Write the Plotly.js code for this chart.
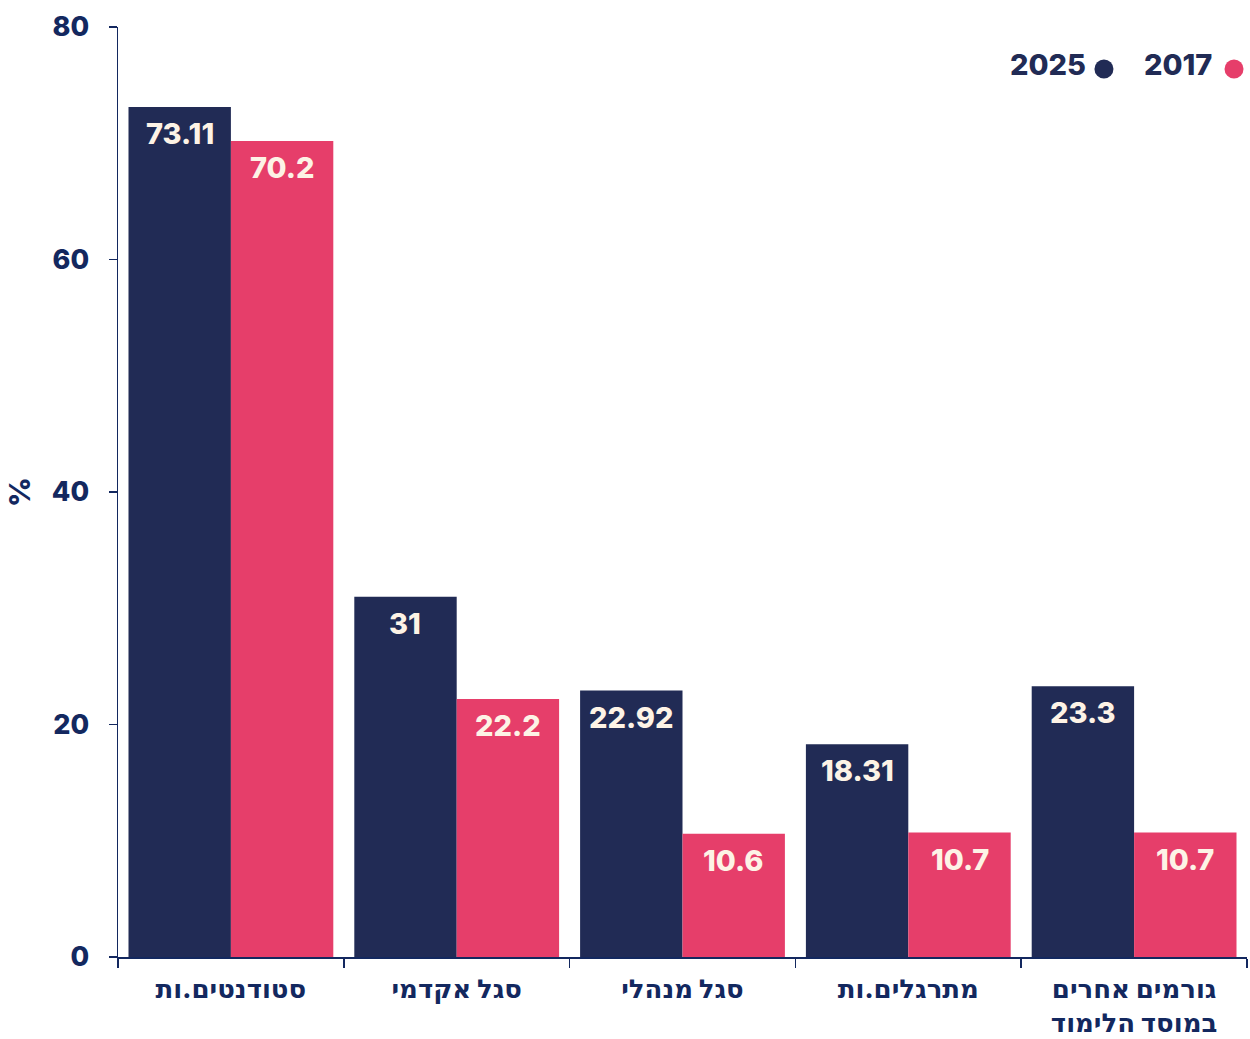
<!DOCTYPE html>
<html><head><meta charset="utf-8">
<script src="https://cdn.plot.ly/plotly-3.0.1.min.js"></script>
<style>body{margin:0;background:#fff}#c{width:1250px;height:1039px}</style>
</head><body><div id="c"></div>
<script>
const categories = ["סטודנטים.ות", "סגל אקדמי", "סגל מנהלי", "מתרגלים.ות", "גורמים אחרים<br>במוסד הלימוד"];
const values2025 = [73.11, 31, 22.92, 18.31, 23.3];
const values2017 = [70.2, 22.2, 10.6, 10.7, 10.7];
const seriesNames = ["2025", "2017"];
const yTicks = [0, 20, 40, 60, 80];

const NAVY = "#212b55", PINK = "#e63e6a", AXIS = "#13285f", TXT = "#fdf3e6";
const F = "Inter, 'Noto Sans', 'DejaVu Sans', sans-serif";
const W = 800;

const mk = (name, vals, color) => ({
  type: "bar", name, x: categories, y: vals,
  marker: {color, line: {width: 0}},
  hoverinfo: "skip"
});

const data = [mk(seriesNames[0], values2025, NAVY), mk(seriesNames[1], values2017, PINK)];

// value labels inside the top of each bar
const annotations = [];
const barHalf = 51.3;
[[values2025, -barHalf], [values2017, barHalf]].forEach(([vals, dx]) => {
  vals.forEach((v, i) => {
    annotations.push({
      xref: "x", yref: "y", x: categories[i], y: v, xshift: dx, yshift: -7,
      xanchor: "center", yanchor: "top", showarrow: false,
      text: String(v),
      font: {family: F, size: 29, color: TXT, weight: W}
    });
  });
});

// legend (text + dot), text left of dot as in reference
const legend = [
  {name: seriesNames[0], color: NAVY, textX: 0.8592, dotX: 0.8733},
  {name: seriesNames[1], color: PINK, textX: 0.9708, dotX: 0.9885}
];
const shapes = [];
legend.forEach(l => {
  annotations.push({
    xref: "paper", yref: "paper", x: l.textX, y: 0.9602, xanchor: "right", yanchor: "middle",
    showarrow: false, text: l.name,
    font: {family: F, size: 29, color: NAVY, weight: W}
  });
  shapes.push({
    type: "circle", xref: "paper", yref: "paper", xsizemode: "pixel", ysizemode: "pixel",
    xanchor: l.dotX, yanchor: 0.9548, x0: -9.5, x1: 9.5, y0: -9.5, y1: 9.5,
    fillcolor: l.color, line: {width: 0}
  });
});

const layout = {
  width: 1250, height: 1039,
  margin: {l: 118, r: 3, t: 27, b: 82},
  paper_bgcolor: "#fff", plot_bgcolor: "#fff",
  barmode: "group", bargap: 0.093, bargroupgap: 0,
  showlegend: false,
  font: {family: F, color: AXIS},
  xaxis: {
    type: "category", showgrid: false, showline: true, linecolor: AXIS, linewidth: 1.5,
    ticks: "outside", tickson: "boundaries", ticklen: 9, tickcolor: AXIS, tickwidth: 1.5,
    tickfont: {family: F, size: 26, color: AXIS, weight: W},
    ticklabelstandoff: 8,
    zeroline: false
  },
  yaxis: {
    range: [0, 80], tickvals: yTicks, ticktext: yTicks.map(String),
    showgrid: false, showline: true, linecolor: AXIS, linewidth: 1.5,
    ticks: "outside", ticklen: 8, tickcolor: AXIS, tickwidth: 1.5,
    tickfont: {family: F, size: 27, color: AXIS, weight: W},
    ticklabelstandoff: 14,
    zeroline: false,
    title: {text: "%", font: {family: F, size: 29, color: AXIS, weight: W}, standoff: 12}
  },
  annotations, shapes
};

Plotly.newPlot("c", data, layout, {displayModeBar: false, staticPlot: true});
</script></body></html>
